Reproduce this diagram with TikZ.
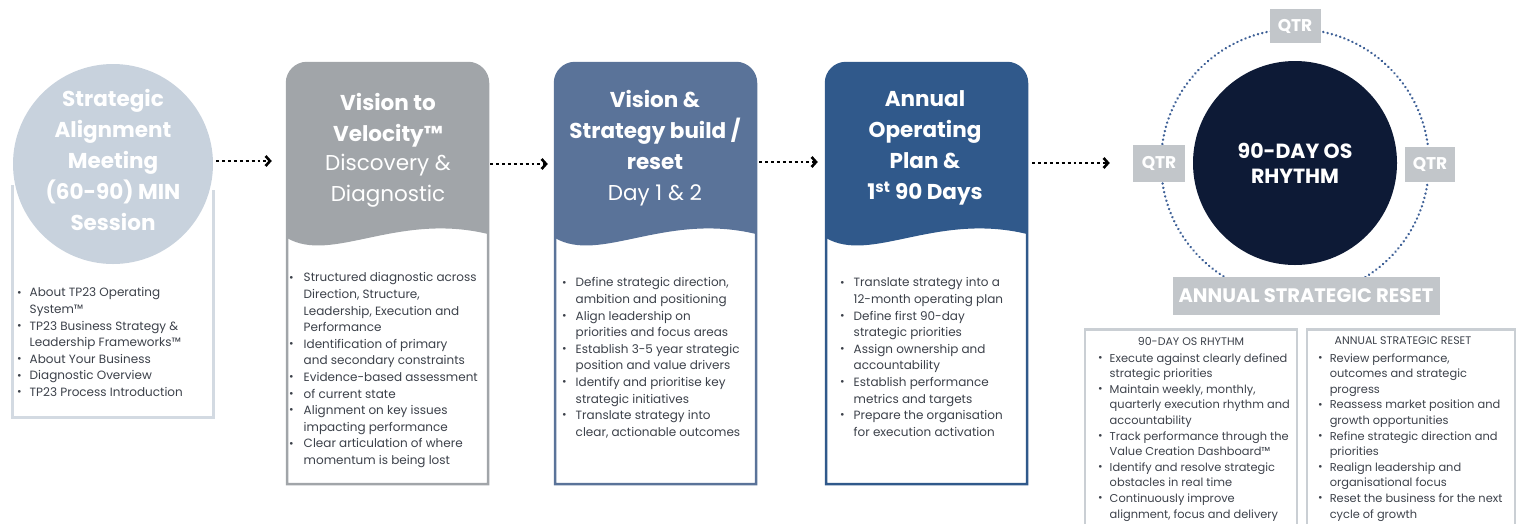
\documentclass[tikz,border=0pt]{standalone}
\usepackage{fontspec}
\setmainfont{Poppins}
\usetikzlibrary{arrows.meta,positioning,calc}
\definecolor{smaGrey}{HTML}{C8D2DD}
\definecolor{smaBorder}{HTML}{D3DAE2}
\definecolor{vvGrey}{HTML}{A1A5A9}
\definecolor{vsBlue}{HTML}{5A7399}
\definecolor{aoBlue}{HTML}{30598B}
\definecolor{osNavy}{HTML}{0D1A36}
\definecolor{dotBlue}{HTML}{3F6197}
\definecolor{qtrGrey}{HTML}{C2C6CA}
\definecolor{boxGrey}{HTML}{CACFD4}
\definecolor{txtGrey}{HTML}{3C414A}
\newcommand{\bul}{\raisebox{0.1ex}{\fontsize{11}{11}\selectfont\textbullet}&}
\newcommand{\colpath}[1]{(#1,484) -- (#1,83) arc[start angle=180,end angle=270,radius=20] -- (#1+181,63) arc[start angle=270,end angle=360,radius=20] -- (#1+201,484) -- cycle}

\begin{document}
\begin{tikzpicture}[x=1pt,y=-1pt,
    flow/.style={line width=2.9pt, dash pattern=on 2.9pt off 3pt,
      -{Straight Barb[length=4.5pt,width=10pt,line width=2.6pt]}},
    hd/.style={text=white, align=center, font=\bfseries\fontsize{21.5}{31}\selectfont},
    lst/.style={anchor=north west, inner sep=0pt, text=txtGrey, font=\fontsize{12}{16.6}\selectfont},
    qtr/.style={fill=qtrGrey, text=white, font=\bfseries\fontsize{17}{18}\selectfont,
      minimum width=51pt, minimum height=36pt, inner sep=0pt}]
  \useasboundingbox (0,0) rectangle (1522,523);

  %% step 1: meeting
  \fill[white] (12,190) rectangle (213,417);
  \draw[line width=3pt, draw=smaBorder] (12,185) -- (12,417) -- (213,417) -- (213,190);
  \node[circle, fill=smaGrey, minimum size=200pt, inner sep=0pt] (sam) at (113,164) {};
  \node[hd] (samtxt) at (113,160) {Strategic\\Alignment\\Meeting\\(60-90) MIN\\Session};

  %% steps 2-4: boxes with wave
  \foreach \n/\x/\c in {vv/287/vvGrey, vs/555/vsBlue, ao/826/aoBlue}{
    \begin{scope}
      \clip \colpath{\x};
      \fill[white] (\x,40) rectangle (\x+210,490);
      \fill[\c] (\x,40) -- (\x,238) .. controls (\x+45,264) and (\x+110,212) .. (\x+201,234)
        -- (\x+201,40) -- cycle;
    \end{scope}
    \draw[\c, line width=2.5pt] \colpath{\x};
    \node[minimum width=201pt, minimum height=421pt, inner sep=0pt] (\n) at (\x+100.5,273.5) {};
  }
  \node[hd] (vvtxt) at (388,150) {Vision to\\Velocity™\\[-2pt]{\mdseries Discovery \&}\\{\mdseries Diagnostic}};
  \node[hd] (vstxt) at (655,148) {Vision \&\\Strategy build /\\reset\\{\mdseries Day 1 \& 2}};
  \node[hd] (aotxt) at (925,148) {Annual\\Operating\\Plan \&\\1\textsuperscript{st} 90 Days};

  %% bullet lists
  \node[lst] (samlist) at (17,285) {\begin{tabular}{@{}l@{\hspace{8pt}}l@{}}
    \bul About TP23 Operating\\ & System™\\
    \bul TP23 Business Strategy \&\\ & Leadership Frameworks™\\
    \bul About Your Business\\
    \bul Diagnostic Overview\\
    \bul TP23 Process Introduction
  \end{tabular}};
  \node[lst] (vvlist) at (289,270) {\begin{tabular}{@{}l@{\hspace{10pt}}l@{}}
    \bul Structured diagnostic across\\ & Direction, Structure,\\ & Leadership, Execution and\\ & Performance\\
    \bul Identification of primary\\ & and secondary constraints\\
    \bul Evidence-based assessment\\
    \bul of current state\\
    \bul Alignment on key issues\\ & impacting performance\\
    \bul Clear articulation of where\\ & momentum is being lost
  \end{tabular}};
  \node[lst] (vslist) at (562,275) {\begin{tabular}{@{}l@{\hspace{9pt}}l@{}}
    \bul Define strategic direction,\\ & ambition and positioning\\
    \bul Align leadership on\\ & priorities and focus areas\\
    \bul Establish 3-5 year strategic\\ & position and value drivers\\
    \bul Identify and prioritise key\\ & strategic initiatives\\
    \bul Translate strategy into\\ & clear, actionable outcomes
  \end{tabular}};
  \node[lst] (aolist) at (840,275) {\begin{tabular}{@{}l@{\hspace{9pt}}l@{}}
    \bul Translate strategy into a\\ & 12-month operating plan\\
    \bul Define first 90-day\\ & strategic priorities\\
    \bul Assign ownership and\\ & accountability\\
    \bul Establish performance\\ & metrics and targets\\
    \bul Prepare the organisation\\ & for execution activation
  \end{tabular}};

  %% rhythm cycle
  \draw[dotBlue, line width=2.6pt, dash pattern=on 0.1pt off 4.3pt, line cap=round] (1295,163) circle[radius=134];
  \node[circle, fill=osNavy, minimum size=204pt, inner sep=0pt, text=white, align=center,
    font=\bfseries\fontsize{20.5}{25}\selectfont] (os) at (1295,163) {90-DAY OS\\RHYTHM};
  \node[qtr, minimum height=34pt] (qtop) at (1295,26) {QTR};
  \node[qtr, minimum width=52pt, minimum height=37pt] (qleft) at (1159,163.5) {QTR};
  \node[qtr, minimum width=50pt, minimum height=35pt] (qright) at (1430,164.5) {QTR};
  \node[fill=qtrGrey, text=white, minimum width=267pt, minimum height=38pt, inner sep=0pt,
    font=\bfseries\fontsize{19.5}{20}\selectfont] (reset) at (1306,296) {ANNUAL STRATEGIC RESET};

  %% bottom boxes
  \node[draw=boxGrey, line width=2.5pt, minimum width=212pt, minimum height=220pt, anchor=north] (osbox) at (1191,328) {};
  \node[draw=boxGrey, line width=2.5pt, minimum width=208pt, minimum height=220pt, anchor=north] (rsbox) at (1411,328) {};
  \node[text=txtGrey, font=\fontsize{11}{13}\selectfont] (ostitle) at (1191,341) {90-DAY OS RHYTHM};
  \node[text=txtGrey, font=\fontsize{11}{13}\selectfont] (rstitle) at (1403,341) {ANNUAL STRATEGIC RESET};
  \node[lst, font=\fontsize{11.4}{15.6}\selectfont] (oslist) at (1098,351) {\begin{tabular}{@{}l@{\hspace{7pt}}l@{}}
    \bul Execute against clearly defined\\ & strategic priorities\\
    \bul Maintain weekly, monthly,\\ & quarterly execution rhythm and\\ & accountability\\
    \bul Track performance through the\\ & Value Creation Dashboard™\\
    \bul Identify and resolve strategic\\ & obstacles in real time\\
    \bul Continuously improve\\ & alignment, focus and delivery
  \end{tabular}};
  \node[lst, font=\fontsize{11.4}{15.6}\selectfont] (rslist) at (1318,351) {\begin{tabular}{@{}l@{\hspace{7pt}}l@{}}
    \bul Review performance,\\ & outcomes and strategic\\ & progress\\
    \bul Reassess market position and\\ & growth opportunities\\
    \bul Refine strategic direction and\\ & priorities\\
    \bul Realign leadership and\\ & organisational focus\\
    \bul Reset the business for the next\\ & cycle of growth
  \end{tabular}};

  %% connectors
  \draw[flow, shorten <=3pt, shorten >=15pt] (sam.east |- 0,161) -- (vv.west |- 0,161);
  \draw[flow, shorten <=2pt, shorten >=7pt] (vv.east |- 0,164) -- (vs.west |- 0,164);
  \draw[flow, shorten <=3pt, shorten >=8pt] (vs.east |- 0,162) -- (ao.west |- 0,162);
  \draw[flow, shorten <=5pt, shorten >=23pt] (ao.east |- 0,163) -- (qleft.west |- 0,163);
\end{tikzpicture}
\end{document}
